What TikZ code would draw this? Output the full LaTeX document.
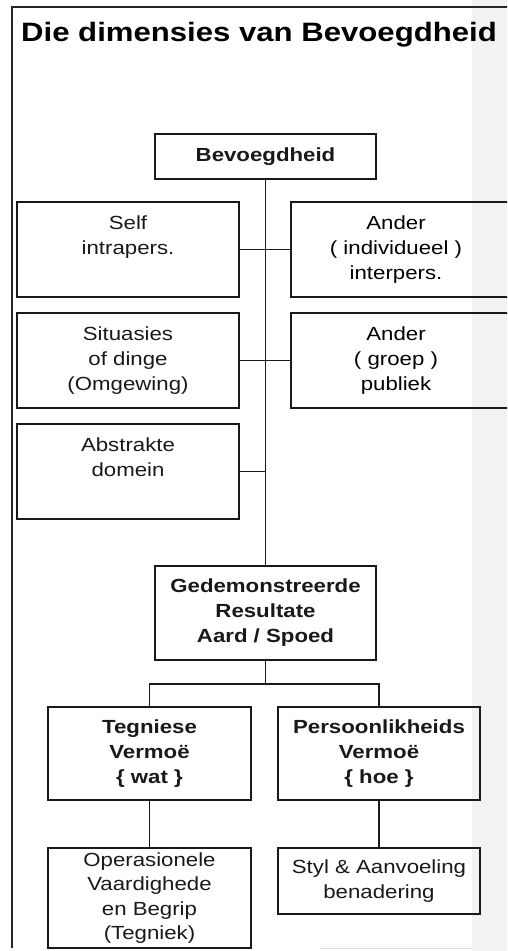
\documentclass[tikz,border=0pt]{standalone}
\usepackage{fontspec}
\usetikzlibrary{calc}
\setmainfont{Liberation Sans}[FakeStretch=1.17]
\begin{document}
\begin{tikzpicture}[x=1pt, y=-1pt,
  frameline/.style={line width=1.3pt, black!85},
  box/.style={draw, line width=1.6pt, black!90, inner sep=0pt, align=center,
              font=\fontsize{19}{25}\selectfont},
  boldbox/.style={box, font=\fontsize{19}{25}\selectfont\bfseries},
  txt/.style={inner sep=0pt, align=center, font=\fontsize{19}{25}\selectfont},
  link/.style={line width=1.6pt, black!90}]

  \useasboundingbox (0,0) rectangle (507,951);
  \clip (0,0) rectangle (507,951);

  % light paper strip along the right edge
  \fill[gray!10] (472,0) rectangle (507,951);

  % frame and title
  \draw[frameline] (12,948) -- (12,7) -- (510,7);
  \draw[gray!40, line width=0.6pt, densely dotted] (320,948) -- (472,948);
  \node[anchor=base west, inner sep=0pt,
        font=\fontsize{26.6}{30}\selectfont\bfseries] (title) at (21,41)
        {Die dimensies van Bevoegdheid};

  % top node
  \node[boldbox, minimum width=221pt, minimum height=45pt] (bev) at (265.5,156.5) {Bevoegdheid};

  % left column
  \node[box, minimum width=222pt, minimum height=95pt] (self) at (128,249.5)
       {Self\\intrapers.\\\phantom{Ag}};
  \node[box, minimum width=222pt, minimum height=95pt] (sit) at (128,360.5)
       {Situasies\\of dinge\\(Omgewing)};
  \node[box, minimum width=222pt, minimum height=95pt] (abs) at (128,471.5)
       {Abstrakte\\domein\\\phantom{Ag}};

  % right column (boxes run past the edge)
  \node[draw, line width=1.6pt, black!90, minimum width=225pt, minimum height=95pt,
        inner sep=0pt] (and1) at (403.5,249.5) {};
  \node[txt] (and1t) at (396,249.5) {Ander\\( individueel )\\interpers.};
  \node[draw, line width=1.6pt, black!90, minimum width=225pt, minimum height=95pt,
        inner sep=0pt] (and2) at (403.5,360.5) {};
  \node[txt] (and2t) at (396,360.5) {Ander\\( groep )\\publiek};

  % results
  \node[boldbox, minimum width=221pt, minimum height=94pt] (ged) at (265.5,613)
       {Gedemonstreerde\\Resultate\\Aard / Spoed};

  \node[boldbox, minimum width=203pt, minimum height=93pt] (teg) at (149.5,753.5)
       {Tegniese\\Vermoë\\\{ wat \}};
  \node[boldbox, minimum width=202pt, minimum height=93pt] (per) at (379,753.5)
       {Persoonlikheids\\Vermoë\\\{ hoe \}};

  \node[box, minimum width=203pt, minimum height=100pt,
        font=\fontsize{19}{24.4}\selectfont] (ope) at (149.5,898)
       {Operasionele\\Vaardighede\\en Begrip\\(Tegniek)};
  \node[box, minimum width=202pt, minimum height=66pt] (sty) at (379,881)
       {Styl \& Aanvoeling\\benadering};

  % connectors
  \draw[link] (bev.south) -- (ged.north);
  \draw[link] (self.east) -- (and1.west);
  \draw[link] (sit.east) -- (and2.west);
  \draw[link] (abs.east) -- (abs.east -| bev.south);
  \coordinate (bar) at ($(ged.south)+(0,23)$);
  \draw[link] (ged.south) -- (bar);
  \draw[link] (teg.north) |- (bar) -| (per.north);
  \draw[link] (teg.south) -- (ope.north);
  \draw[link] (per.south) -- (sty.north);
\end{tikzpicture}
\end{document}
